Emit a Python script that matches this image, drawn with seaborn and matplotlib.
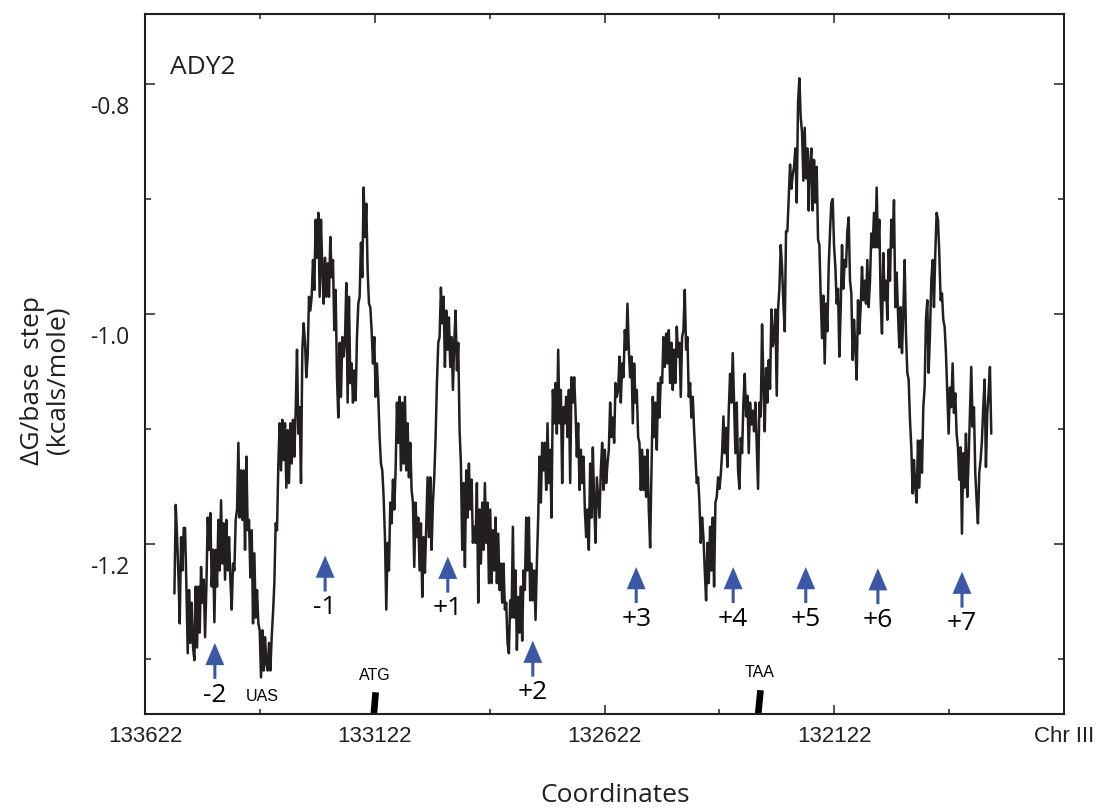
import numpy as np
import pandas as pd
import seaborn as sns
import matplotlib
matplotlib.use("Agg")
import matplotlib.pyplot as plt
from matplotlib.transforms import ScaledTranslation, blended_transform_factory

# ---------------------------------------------------------------------------
# Data: free energy of DNA duplex destabilisation per base step along the
# ADY2 locus (Chr III), sliding window positions from WINDOW_START downwards.
# ---------------------------------------------------------------------------
WINDOW_START = 133558
WINDOW_STEP = 2.9

dG = [
    # 133558 .. 133274
    -1.243, -1.166, -1.194, -1.227, -1.269, -1.194, -1.223, -1.186, -1.186, -1.237,
    -1.295, -1.240, -1.286, -1.251, -1.290, -1.301, -1.237, -1.290, -1.237, -1.277,
    -1.220, -1.251, -1.231, -1.281, -1.237, -1.177, -1.205, -1.173, -1.237, -1.205,
    -1.268, -1.205, -1.237, -1.179, -1.223, -1.162, -1.217, -1.182, -1.231, -1.179,
    -1.223, -1.194, -1.231, -1.257, -1.217, -1.223, -1.179, -1.170, -1.112, -1.177,
    -1.136, -1.179, -1.136, -1.205, -1.124, -1.188, -1.179, -1.229, -1.188, -1.269,
    -1.208, -1.264, -1.240, -1.269, -1.275, -1.316, -1.275, -1.310, -1.281, -1.304,
    -1.310, -1.286, -1.310, -1.281, -1.260, -1.234, -1.182, -1.188, -1.130, -1.095,
    -1.136, -1.092, -1.127, -1.095, -1.151, -1.101, -1.147, -1.095, -1.130, -1.092,
    -1.124, -1.084, -1.031, -1.104, -1.081, -1.147, -1.031, -1.008, -1.025,
    # 133271 .. 132981
    -1.055, -1.037, -0.985, -0.997, -0.985, -0.953, -0.979, -0.918, -0.951, -0.912,
    -0.985, -0.918, -0.962, -0.991, -0.951, -0.985, -0.956, -0.985, -0.933, -0.968,
    -0.953, -1.014, -0.979, -1.055, -1.090, -1.025, -1.072, -1.020, -1.037, -1.023,
    -0.973, -1.077, -0.985, -1.060, -1.043, -1.077, -1.049, -1.075, -1.020, -0.991,
    -0.985, -0.938, -0.968, -0.890, -0.933, -0.904, -0.962, -0.991, -0.994, -1.014,
    -1.043, -1.020, -1.072, -1.043, -1.072, -1.107, -1.130, -1.136, -1.159, -1.194,
    -1.257, -1.199, -1.223, -1.164, -1.182, -1.144, -1.170, -1.136, -1.077, -1.112,
    -1.072, -1.136, -1.077, -1.130, -1.072, -1.136, -1.095, -1.142, -1.112, -1.153,
    -1.164, -1.220, -1.164, -1.194, -1.177, -1.223, -1.182, -1.246, -1.194, -1.225,
    -1.182, -1.142, -1.194, -1.142, -1.205, -1.164, -1.142, -1.107, -1.060, -1.025,
    -1.020,
    # 132978 .. 132688
    -0.977, -1.008, -0.985, -1.046, -0.997, -1.031, -1.003, -1.046, -1.020, -1.066,
    -1.025, -0.997, -1.049, -1.025, -1.101, -1.130, -1.205, -1.147, -1.220, -1.136,
    -1.177, -1.130, -1.170, -1.144, -1.199, -1.185, -1.199, -1.147, -1.251, -1.170,
    -1.217, -1.164, -1.205, -1.147, -1.199, -1.164, -1.234, -1.170, -1.234, -1.188,
    -1.223, -1.177, -1.234, -1.191, -1.240, -1.217, -1.251, -1.217, -1.257, -1.251,
    -1.286, -1.295, -1.249, -1.264, -1.185, -1.264, -1.223, -1.292, -1.246, -1.277,
    -1.237, -1.284, -1.223, -1.240, -1.177, -1.223, -1.177, -1.249, -1.217, -1.249,
    -1.223, -1.266, -1.217, -1.177, -1.124, -1.164, -1.112, -1.136, -1.112, -1.153,
    -1.095, -1.147, -1.118, -1.177, -1.066, -1.095, -1.060, -1.104, -1.031, -1.095,
    -1.066, -1.147, -1.081, -1.095, -1.072, -1.107, -1.066, -1.147, -1.055, -1.077,
    -1.055,
    # 132685 .. 132375
    -1.084, -1.124, -1.095, -1.153, -1.118, -1.147, -1.124, -1.170, -1.194, -1.170,
    -1.205, -1.130, -1.177, -1.116, -1.164, -1.199, -1.142, -1.159, -1.177, -1.136,
    -1.112, -1.153, -1.118, -1.147, -1.130, -1.118, -1.077, -1.107, -1.090, -1.112,
    -1.060, -1.072, -1.066, -1.037, -1.077, -1.043, -1.055, -1.014, -1.031, -0.991,
    -1.031, -1.055, -1.037, -1.095, -1.043, -1.077, -1.066, -1.107, -1.112, -1.153,
    -1.118, -1.153, -1.124, -1.159, -1.118, -1.170, -1.203, -1.136, -1.072, -1.107,
    -1.077, -1.118, -1.060, -1.090, -1.055, -1.060, -1.020, -1.046, -1.017, -1.043,
    -1.014, -1.060, -1.025, -1.066, -1.031, -1.060, -1.011, -1.037, -1.025, -1.072,
    -1.020, -1.014, -0.979, -1.031, -1.020, -1.072, -1.060, -1.090, -1.072, -1.101,
    -1.124, -1.147, -1.142, -1.164, -1.199, -1.177, -1.194, -1.223, -1.249, -1.199,
    -1.234, -1.185, -1.223, -1.177, -1.237, -1.164, -1.159, -1.142,
    # 132372 .. 132091
    -1.152, -1.140, -1.121, -1.089, -1.121, -1.099, -1.133, -1.084, -1.052, -1.077,
    -1.034, -1.077, -1.121, -1.077, -1.136, -1.152, -1.108, -1.121, -1.077, -1.052,
    -1.089, -1.071, -1.121, -1.077, -1.096, -1.084, -1.102, -1.077, -1.115, -1.152,
    -1.077, -1.089, -1.009, -1.059, -1.102, -1.047, -1.077, -1.040, -1.065, -0.996,
    -1.028, -1.021, -0.996, -1.071, -0.996, -0.978, -0.940, -0.959, -0.991, -1.015,
    -0.928, -0.928, -0.898, -0.870, -0.891, -0.879, -0.872, -0.856, -0.903, -0.816,
    -0.795, -0.829, -0.842, -0.884, -0.838, -0.882, -0.856, -0.910, -0.870, -0.856,
    -0.910, -0.866, -0.903, -0.872, -0.935, -0.940, -0.984, -1.021, -0.984, -1.043,
    -0.991, -1.015, -0.959, -0.928, -0.903, -0.900, -0.940, -0.959, -0.991, -0.978,
    -1.037, -0.996, -0.940, -0.978, -0.953, -0.959, -0.928, -0.916,
    # 132088 .. 131780
    -0.971, -0.982, -1.040, -1.005, -1.029, -1.057, -0.988, -1.017, -0.994, -0.959,
    -0.988, -0.971, -0.991, -0.953, -0.994, -0.971, -0.930, -0.942, -0.912, -0.942,
    -0.890, -0.942, -0.918, -0.988, -1.017, -0.947, -0.988, -0.971, -1.005, -0.944,
    -0.971, -0.918, -0.942, -0.901, -0.994, -0.964, -0.999, -1.029, -0.994, -1.034,
    -0.999, -0.953, -1.017, -1.051, -1.057, -1.092, -1.116, -1.156, -1.127, -1.151,
    -1.164, -1.110, -1.151, -1.110, -1.138, -1.081, -1.064, -1.005, -0.988, -1.051,
    -1.017, -0.971, -0.953, -0.994, -0.947, -0.912, -0.918, -0.947, -0.988, -0.982,
    -1.005, -1.011, -1.034, -1.069, -1.104, -1.064, -1.081, -1.043, -1.086, -1.069,
    -1.104, -1.116, -1.144, -1.116, -1.191, -1.121, -1.151, -1.104, -1.159, -1.127,
    -1.086, -1.046, -1.098, -1.081, -1.138, -1.162, -1.182, -1.138, -1.127, -1.110,
    -1.081, -1.057, -1.133, -1.086, -1.069, -1.046, -1.104,
]

# Nucleosome positions (arrows): coordinate, arrow tip level, label
nuc_coord = [133470, 133230, 132963, 132778, 132553, 132342, 132184, 132027, 131844]
nuc_tip = [-1.286, -1.210, -1.211, -1.284, -1.220, -1.220, -1.220, -1.221, -1.224]
nuc_label = ["-2", "-1", "+1", "+2", "+3", "+4", "+5", "+6", "+7"]

# Gene features on the coordinate axis
start_codon = 133122
stop_codon = 132285
uas_coord = 133367

x_major = [133622, 133122, 132622, 132122, 131622]
x_major_labels = ["133622", "133122", "132622", "132122", "Chr III"]
x_minor = [133372, 132872, 132372, 131872]
y_major = [-0.8, -1.0, -1.2]
y_major_labels = ["-0.8", "-1.0", "-1.2"]
y_minor = [-0.9, -1.1, -1.3]

# ---------------------------------------------------------------------------
INK = "#231f20"
BLUE = "#3b58a6"
SANS = ["Open Sans", "DejaVu Sans"]
HELV = ["Liberation Sans", "DejaVu Sans"]

sns.set_style("ticks")
plt.rcParams["font.family"] = SANS
plt.rcParams["text.color"] = INK
plt.rcParams["axes.edgecolor"] = INK
plt.rcParams["xtick.color"] = INK
plt.rcParams["ytick.color"] = INK
plt.rcParams["xtick.labelcolor"] = INK
plt.rcParams["ytick.labelcolor"] = INK

W, H = 1097, 809
fig = plt.figure(figsize=(W / 100, H / 100), dpi=100)
ax = fig.add_axes([145 / W, 1 - 714 / H, 919 / W, 700 / H])

coords = WINDOW_START - WINDOW_STEP * np.arange(len(dG))
df = pd.DataFrame({"coord": coords, "dG": dG})
sns.lineplot(data=df, x="coord", y="dG", ax=ax, color=INK, lw=1.8,
             sort=False, estimator=None)

ax.set_xlim(133622, 131622)
ax.set_ylim(-1.3478, -0.7391)
ax.set_xlabel("")
ax.set_ylabel("")

for side in ax.spines.values():
    side.set_linewidth(1.5)
    side.set_color(INK)

ax.set_xticks(x_major)
ax.set_xticklabels(x_major_labels, family=HELV, fontsize=16)
ax.set_xticks(x_minor, minor=True)
ax.set_yticks(y_major)
ax.set_yticklabels(y_major_labels, fontsize=16.5)
ax.set_yticks(y_minor, minor=True)
ax.tick_params(which="both", direction="in", top=True, right=True,
               width=1.1, color=INK)
ax.tick_params(axis="x", which="major", length=6.5, pad=9)
ax.tick_params(axis="x", which="minor", length=3.6)
ax.tick_params(axis="y", which="major", length=7.2, pad=11.5)
ax.tick_params(axis="y", which="minor", length=4.3)

# y labels sit a little below their ticks
shift = ScaledTranslation(0, -21 / 100, fig.dpi_scale_trans)
for tk in ax.yaxis.get_major_ticks():
    tk.label1.set_transform(tk.label1.get_transform() + shift)

# nucleosome arrows with labels
for xc, tip, lab in zip(nuc_coord, nuc_tip, nuc_label):
    ax.annotate("", xy=(xc, tip), xytext=(xc, tip - 0.0313),
                arrowprops=dict(arrowstyle="simple,head_length=0.8,head_width=0.68,tail_width=0.11",
                                mutation_scale=20, facecolor=BLUE, edgecolor="none",
                                lw=0, shrinkA=0, shrinkB=0))
    ax.annotate(lab, xy=(xc, tip), xytext=(0, -37.5), textcoords="offset points",
                ha="center", va="center", fontsize=19, color="black")

# start / stop codon bars and the UAS
tr = blended_transform_factory(ax.transData, ax.transAxes)
ax.plot([start_codon + 2, start_codon - 2], [0.0, 0.031], transform=tr,
        color="black", lw=4.8, solid_capstyle="butt", clip_on=False)
ax.plot([stop_codon + 2.5, stop_codon - 2.5], [0.0, 0.034], transform=tr,
        color="black", lw=4.8, solid_capstyle="butt", clip_on=False)
ax.text(start_codon, 0.0557, "ATG", transform=tr, ha="center", va="center",
        family=HELV, fontsize=11.5, color="black")
ax.text(stop_codon, 0.0586, "TAA", transform=tr, ha="center", va="center",
        family=HELV, fontsize=11.5, color="black")
ax.text(uas_coord, 0.0243, "UAS", transform=tr, ha="center", va="center",
        family=HELV, fontsize=11.5, color="black")

ax.text(0.027, 0.924, "ADY2", transform=ax.transAxes, ha="left", va="center",
        fontsize=19)

fig.text(45 / W, 1 - 380 / H, "\u0394G/base  step\n(kcals/mole)", rotation=90,
         ha="center", va="center", fontsize=19, linespacing=1.0,
         multialignment="center")
fig.text(615 / W, 1 - 795 / H, "Coordinates", ha="center", va="center",
         fontsize=19)

fig.savefig("out.png", dpi=100)
